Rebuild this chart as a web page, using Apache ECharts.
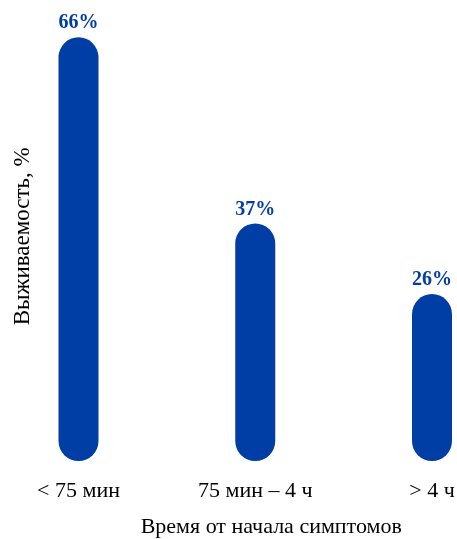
<!DOCTYPE html>
<html>
<head>
<meta charset="utf-8">
<style>
  html, body { margin: 0; padding: 0; background: #fff; }
  #chart { width: 457px; height: 539px; }
</style>
<script src="https://cdn.jsdelivr.net/npm/echarts@6/dist/echarts.min.js"></script>
</head>
<body>
<div id="chart"></div>
<script>
var categories = ['< 75 мин', '75 мин – 4 ч', '> 4 ч'];
var survival = [66, 37, 26];

var myChart = echarts.init(document.getElementById('chart'));
var serif = '"Liberation Serif", "DejaVu Serif", serif';

var option = {
    animation: false,
    grid: {
        left: 78.5,
        right: 25,
        top: 11.6,
        bottom: 78,
        outerBoundsMode: 'none'
    },
    xAxis: {
        type: 'category',
        data: categories,
        boundaryGap: false,
        axisLine: { show: false },
        axisTick: { show: false },
        axisLabel: {
            color: '#000',
            fontFamily: serif,
            fontSize: 22,
            margin: 19
        },
        name: 'Время от начала симптомов',
        nameLocation: 'middle',
        nameGap: 55,
        nameTextStyle: {
            color: '#000',
            fontFamily: serif,
            fontSize: 22,
            padding: [0, 0, 0, 32]
        }
    },
    yAxis: {
        type: 'value',
        min: 0,
        max: 70,
        axisLine: { show: false },
        axisTick: { show: false },
        axisLabel: { show: false },
        splitLine: { show: false },
        name: 'Выживаемость, %',
        nameLocation: 'middle',
        nameGap: 44,
        nameTextStyle: {
            color: '#000',
            fontFamily: serif,
            fontSize: 23
        }
    },
    series: [{
        type: 'bar',
        data: survival,
        barWidth: 40,
        itemStyle: {
            color: '#003da5',
            borderRadius: 20
        },
        label: {
            show: true,
            position: 'top',
            distance: 4,
            formatter: '{c}%',
            color: '#003da5',
            fontFamily: serif,
            fontWeight: 'bold',
            fontSize: 20
        }
    }]
};

myChart.setOption(option);
</script>
</body>
</html>
